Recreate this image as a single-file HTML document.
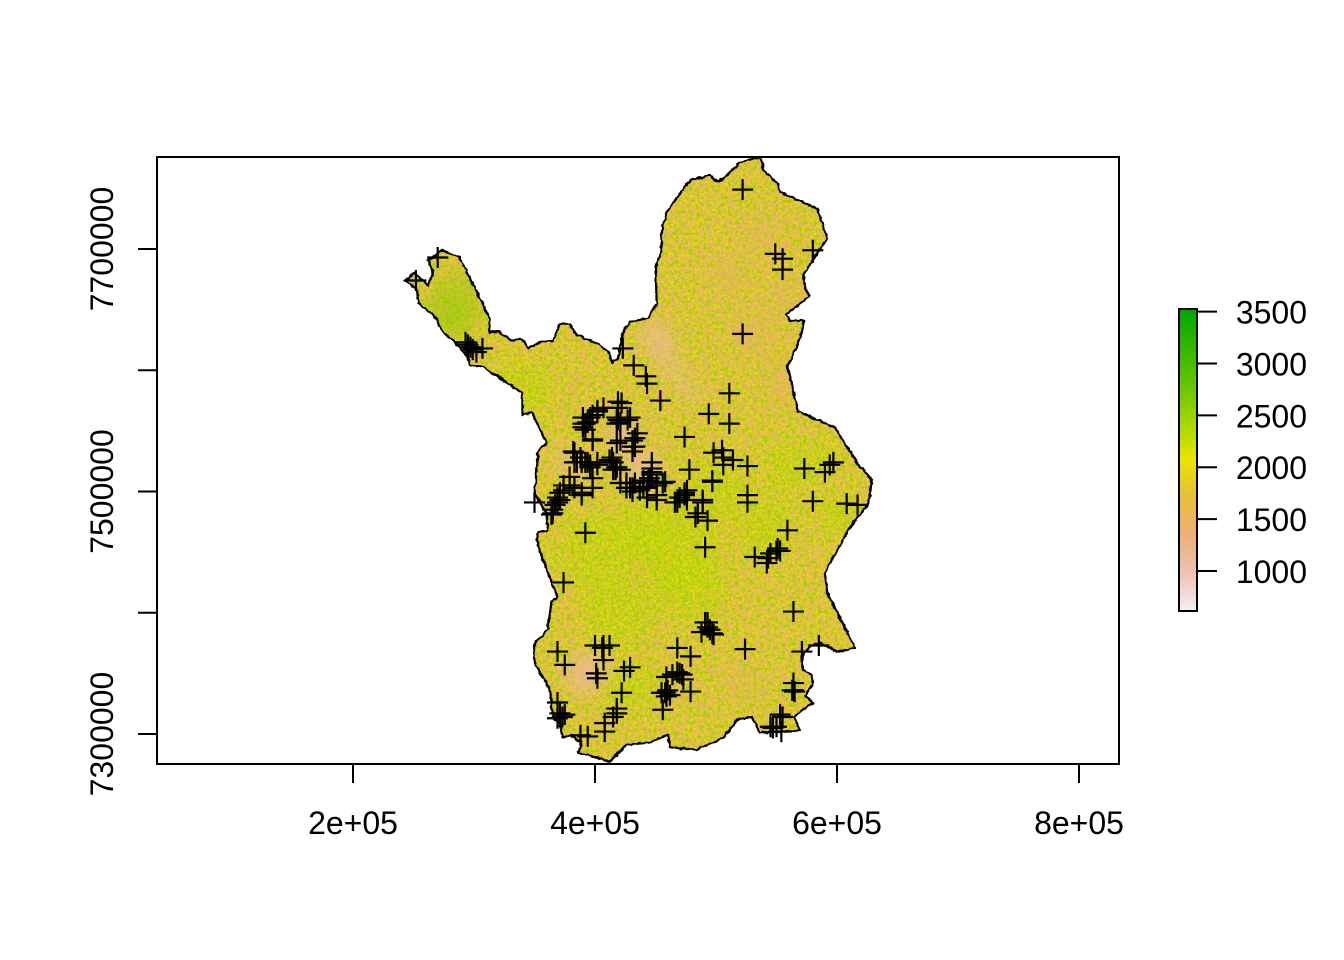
<!DOCTYPE html>
<html lang="en">
<head>
<meta charset="utf-8">
<title>Raster map with sample points</title>
<style>
html,body{margin:0;padding:0;background:#fff;}
svg{display:block;font-family:"Liberation Sans",Arial,sans-serif;}
text{fill:#000;font-size:32px;}
</style>
</head>
<body>
<svg id="chart" xmlns="http://www.w3.org/2000/svg" width="1344" height="960" viewBox="0 0 1344 960">
<defs>
<linearGradient id="terrain" x1="0" y1="0" x2="0" y2="1">
<stop offset="0" stop-color="#00A600"/>
<stop offset="0.25" stop-color="#63C600"/>
<stop offset="0.5" stop-color="#E6E600"/>
<stop offset="0.625" stop-color="#E9BD3A"/>
<stop offset="0.75" stop-color="#ECB176"/>
<stop offset="0.875" stop-color="#EFC2B3"/>
<stop offset="1" stop-color="#F2F2F2"/>
</linearGradient>
<filter id="speck-yellow" x="0" y="0" width="100%" height="100%" color-interpolation-filters="sRGB">
<feTurbulence type="fractalNoise" baseFrequency="0.42" numOctaves="2" seed="4"/>
<feColorMatrix type="matrix" values="0 0 0 0 0.88  0 0 0 0 0.88  0 0 0 0 0  15 0 0 0 -7.8"/>
</filter>
<filter id="speck-green" x="0" y="0" width="100%" height="100%" color-interpolation-filters="sRGB">
<feTurbulence type="fractalNoise" baseFrequency="0.28" numOctaves="3" seed="11"/>
<feColorMatrix type="matrix" values="0 0 0 0 0.64  0 0 0 0 0.83  0 0 0 0 0  0 14 0 0 -7.8"/>
</filter>
<filter id="soft" x="-50%" y="-50%" width="200%" height="200%"><feGaussianBlur stdDeviation="9"/></filter>
<filter id="jagged" x="-5%" y="-5%" width="110%" height="110%">
<feTurbulence type="fractalNoise" baseFrequency="0.18" numOctaves="2" seed="7" result="n"/>
<feDisplacementMap in="SourceGraphic" in2="n" scale="3.5" xChannelSelector="R" yChannelSelector="G"/>
</filter>
<clipPath id="region-clip"><polygon id="clip-shape" points=""/></clipPath>
</defs>
<rect width="1344" height="960" fill="#fff"/>
<g id="raster" clip-path="url(#region-clip)">
<rect x="157" y="157" width="962" height="607" fill="#E8B267"/>
<g id="patches" filter="url(#soft)"></g>
<rect x="157" y="157" width="962" height="607" filter="url(#speck-yellow)"/>
<rect x="157" y="157" width="962" height="607" filter="url(#speck-green)"/>
<g id="patches-top" filter="url(#soft)"></g>
</g>
<polygon id="boundary" fill="none" stroke="#000" stroke-width="2.2" stroke-linejoin="round" points="" filter="url(#jagged)"/>
<g id="markers" stroke="#000" stroke-width="2.2" fill="none"></g>
<rect x="157" y="157" width="962" height="607" fill="none" stroke="#000" stroke-width="2"/>
<g id="x-axis"></g>
<g id="y-axis"></g>
<g id="legend">
<rect x="1179" y="309" width="18" height="302" fill="url(#terrain)" stroke="#000" stroke-width="2"/>
</g>
</svg>
<script>
// Axis tick values and labels
const xTicks = [200, 400, 600, 800];
const xTickLabels = ["2e+05", "4e+05", "6e+05", "8e+05"];
const yTicks = [7300, 7400, 7500, 7600, 7700];
const yTickLabels = ["7300000", "", "7500000", "", "7700000"];
const legendTicks = [1000, 1500, 2000, 2500, 3000, 3500];

// Region boundary, in thousands of metres
const boundaryE = [537,539,551,553,584,592,573,573,577,558,561,573,569,559,568,598,619,629,626,609,590,592,615,600,586,578,571,572,579,580,574,580,565,569,536,530,518,506,484,462,460,445,426,412,394,386,389,379,373,371,365,363,350,350,361,364,369,356,352,353,361,360,350,352,353,360,348,340,340,328,321,307,297,295,284,274,268,254,253,243,251,262,266,262,274,288,307,313,313,320,330,340,345,356,365,371,379,385,404,412,414,419,423,429,444,451,450,455,455,460,479,495,502,520,531];
const boundaryN = [7775,7765,7754,7747,7733,7709,7680,7669,7661,7646,7641,7641,7625,7603,7566,7553,7520,7510,7490,7468,7433,7416,7371,7368,7375,7373,7364,7353,7349,7342,7331,7326,7314,7303,7301,7314,7312,7297,7287,7289,7299,7293,7291,7277,7283,7284,7293,7299,7297,7309,7314,7336,7359,7375,7386,7409,7413,7446,7460,7466,7468,7482,7499,7520,7533,7540,7565,7563,7581,7589,7594,7603,7604,7611,7623,7632,7644,7655,7666,7674,7680,7670,7680,7691,7699,7693,7655,7643,7631,7632,7625,7625,7618,7624,7624,7638,7638,7629,7621,7614,7606,7610,7631,7640,7643,7655,7685,7699,7716,7732,7757,7761,7755,7771,7775];

// Sample points, in thousands of metres
const pointE = [270,252,293,295,297,299,302,307,423,432,442,443,454,511,494,511,474,522,549,555,555,580,522,407,402,398,396,390,394,392,390,398,422,419,418,429,418,421,435,431,418,433,431,382,383,389,394,402,412,418,447,478,498,505,506,514,526,573,594,597,385,396,415,421,447,506,590,497,526,526,580,608,617,559,493,392,491,374,564,524,553,550,545,543,542,532,551,369,350,365,367,369,371,374,379,364,389,398,421,426,431,433,440,443,444,447,451,451,456,466,470,474,476,489,483,485,491,488,493,497,498,495,493,369,375,400,407,412,406,407,402,401,429,424,422,468,479,470,464,468,472,459,473,479,455,458,462,460,456,459,369,371,373,369,375,388,394,408,408,418,415,418,564,563,565,564,571,585,555,553,547,545,554,550,383,392,388,396,402,398,379,374,365,371,383,389,415,417,414,426,429,431,437,443,447,445,440,458,451,443,468,474,476,489,497,390,392,402,398,419,419,427,421,433,431];
const pointN = [7693,7674,7623,7621,7619,7617,7615,7618,7618,7604,7595,7589,7575,7581,7564,7556,7545,7749,7696,7692,7683,7699,7630,7569,7566,7563,7561,7561,7557,7556,7553,7542,7573,7569,7561,7561,7556,7557,7548,7542,7540,7537,7533,7533,7524,7524,7524,7524,7526,7520,7524,7518,7532,7534,7528,7526,7521,7519,7522,7524,7524,7520,7518,7518,7519,7522,7516,7508,7497,7491,7492,7490,7489,7468,7476,7466,7454,7425,7401,7370,7451,7451,7449,7445,7441,7446,7453,7491,7491,7485,7489,7495,7499,7505,7505,7481,7497,7503,7507,7503,7500,7507,7504,7495,7509,7516,7505,7493,7507,7491,7495,7497,7501,7491,7479,7482,7392,7384,7388,7383,7382,7386,7392,7368,7357,7373,7373,7373,7371,7361,7346,7350,7355,7352,7334,7371,7364,7350,7349,7351,7349,7347,7345,7335,7334,7334,7332,7336,7320,7331,7326,7317,7314,7313,7316,7299,7298,7302,7309,7317,7314,7321,7336,7336,7335,7342,7368,7373,7314,7316,7305,7306,7302,7306,7532,7524,7528,7522,7522,7511,7512,7501,7482,7493,7503,7499,7524,7518,7528,7507,7503,7503,7501,7503,7514,7511,7509,7508,7497,7495,7491,7499,7493,7493,7509,7556,7551,7567,7543,7574,7559,7559,7542,7544,7537];

// Broad raster tone areas: centre easting, northing, radius (km), mean value
const patchE = [500,600,470,480,430,590,340,400,420,540,440,560];
const patchN = [7500,7480,7450,7420,7340,7530,7585,7450,7400,7470,7470,7520];
const patchR = [26,18,34,28,22,14,24,32,30,24,26,22];
const patchValue = [2500,2500,2400,2400,2400,2500,2400,2400,2400,2400,2400,2400];
const overlayE = [284,280,450,458,468,482,425,440,395,385,375,560,520,530,540,470,560,510];
const overlayN = [7657,7640,7628,7612,7595,7582,7545,7518,7352,7345,7525,7590,7345,7630,7710,7340,7660,7680];
const overlayR = [24,18,12,9,7,7,14,14,16,9,8,18,14,22,18,10,16,18];
const overlayValue = [2800,2800,900,900,1000,1000,1000,1000,1000,1000,1200,1400,1400,1400,1400,1400,1400,1400];

const svgNS = "http://www.w3.org/2000/svg";
const X_ORIGIN = 353, X_PER_KM = 1.21;
const Y_ORIGIN = 734, Y_PER_KM = 1.2125;
const LEGEND_ORIGIN = 571, LEGEND_PER_UNIT = 0.10376;
function xScale(e){ return X_ORIGIN + (e - 200) * X_PER_KM; }
function yScale(n){ return Y_ORIGIN - (n - 7300) * Y_PER_KM; }
function legendScale(v){ return LEGEND_ORIGIN - (v - 1000) * LEGEND_PER_UNIT; }
function toneColor(v){ return v >= 2700 ? "#8CCB00" : (v >= 2300 ? "#B4D800" : (v >= 1300 ? "#E8B268" : "#EDB8A0")); }
function toneOpacity(v){ return v >= 2700 ? 0.35 : (v >= 2300 ? 0.5 : (v >= 1300 ? 0.4 : 0.75)); }
function make(tag, attrs, parent){
  const el = document.createElementNS(svgNS, tag);
  for (const k in attrs) el.setAttribute(k, attrs[k]);
  parent.appendChild(el);
  return el;
}

const outline = boundaryE.map((e, i) => xScale(e).toFixed(1) + "," + yScale(boundaryN[i]).toFixed(1)).join(" ");
document.getElementById("boundary").setAttribute("points", outline);
document.getElementById("clip-shape").setAttribute("points", outline);

const patches = document.getElementById("patches");
patchE.forEach((e, i) => {
  const el = make("circle", {cx: xScale(e), cy: yScale(patchN[i]), r: patchR[i] * X_PER_KM, fill: toneColor(patchValue[i]), opacity: toneOpacity(patchValue[i])}, patches);
  
  
});

const overlays = document.getElementById("patches-top");
overlayE.forEach((e, i) => {
  const el = make("circle", {cx: xScale(e), cy: yScale(overlayN[i]), r: overlayR[i] * X_PER_KM, fill: toneColor(overlayValue[i]), opacity: toneOpacity(overlayValue[i])}, overlays);
  
  
});

const markers = document.getElementById("markers");
pointE.forEach((e, i) => {
  const cx = xScale(e), cy = yScale(pointN[i]);
  const el = make("path", {d: `M${cx - 10.5} ${cy}H${cx + 10.5}M${cx} ${cy - 10.5}V${cy + 10.5}`}, markers);
  
  
});

const xAxis = document.getElementById("x-axis");
xTicks.forEach((t, i) => {
  const x = xScale(t);
  const tick = make("line", {x1: x, x2: x, y1: 764, y2: 783, stroke: "#000", "stroke-width": 2}, xAxis);
  
  
  const label = make("text", {x: x, y: 834, "text-anchor": "middle"}, xAxis);
  label.textContent = xTickLabels[i];
  
  
});

const yAxis = document.getElementById("y-axis");
yTicks.forEach((t, i) => {
  const y = yScale(t);
  const tick = make("line", {x1: 138, x2: 157, y1: y, y2: y, stroke: "#000", "stroke-width": 2}, yAxis);
  
  
  if (yTickLabels[i]) {
    const label = make("text", {x: 113, y: y, "text-anchor": "middle", transform: `rotate(-90 113 ${y})`}, yAxis);
    label.textContent = yTickLabels[i];
    
    
  }
});

const legend = document.getElementById("legend");
legendTicks.forEach((v) => {
  const y = legendScale(v);
  const tick = make("line", {x1: 1197, x2: 1217, y1: y, y2: y, stroke: "#000", "stroke-width": 2}, legend);
  
  
  const label = make("text", {x: 1307, y: y + 12, "text-anchor": "end"}, legend);
  label.textContent = String(v);
  
  
});
</script>
</body>
</html>
